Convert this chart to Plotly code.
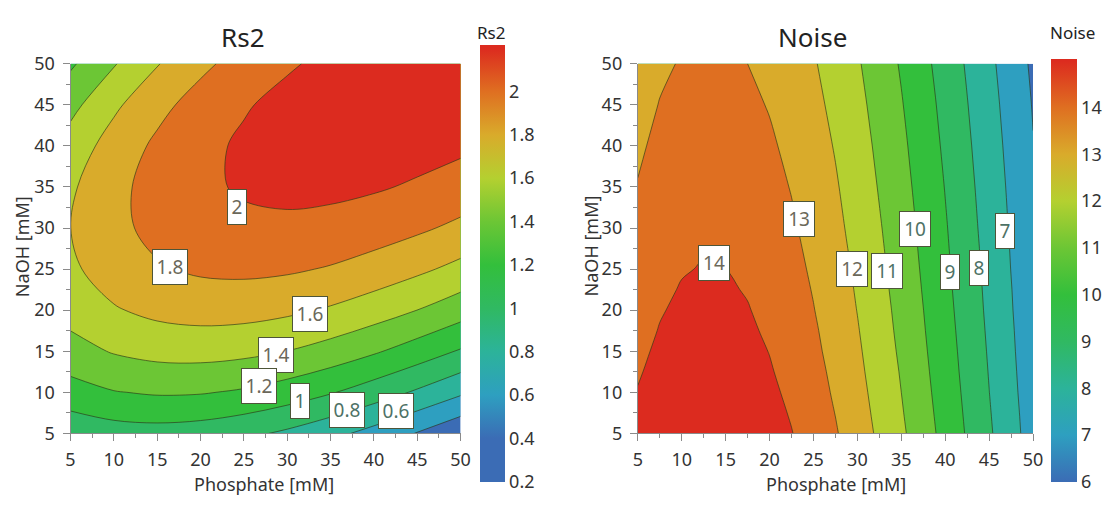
import plotly.graph_objects as go

# ---------------- data ----------------
# Rs2 surface grid
rs2_phosphate = [5, 10, 15, 20, 25, 30, 35, 40, 45, 50]
rs2_naoh = [5, 10, 15, 20, 25, 30, 35, 40, 45, 50]
# rows = NaOH, columns = Phosphate
rs2 = [
    [0.856, 0.911, 0.925, 0.903, 0.848, 0.765, 0.659, 0.532, 0.390, 0.236],
    [1.120, 1.191, 1.221, 1.214, 1.175, 1.107, 1.015, 0.902, 0.773, 0.632],
    [1.326, 1.415, 1.463, 1.473, 1.450, 1.398, 1.322, 1.224, 1.110, 0.983],
    [1.475, 1.583, 1.649, 1.678, 1.673, 1.638, 1.578, 1.497, 1.399, 1.287],
    [1.566, 1.695, 1.781, 1.829, 1.842, 1.826, 1.785, 1.721, 1.640, 1.545],
    [1.599, 1.749, 1.856, 1.925, 1.959, 1.962, 1.940, 1.895, 1.833, 1.756],
    [1.572, 1.745, 1.875, 1.965, 2.021, 2.046, 2.044, 2.020, 1.977, 1.920],
    [1.486, 1.684, 1.837, 1.951, 2.029, 2.077, 2.097, 2.094, 2.072, 2.035],
    [1.341, 1.563, 1.742, 1.880, 1.983, 2.054, 2.097, 2.117, 2.118, 2.103],
    [1.170, 1.385, 1.589, 1.754, 1.882, 1.978, 2.045, 2.089, 2.113, 2.122],
]

# Noise surface grid
noise_phosphate = [5, 7.5, 10, 12.5, 15, 17.5, 20, 22.5, 25, 27.5, 30, 35, 40, 45, 50]
noise_naoh = [5, 7.5, 10, 12.5, 15, 17.5, 20, 22.5, 25, 27.5, 30, 35, 40, 45, 50]
# rows = NaOH, columns = Phosphate
noise = [
    [14.29, 14.62, 14.81, 14.88, 14.82, 14.66, 14.39, 14.03, 13.59, 13.08, 12.49, 11.17, 9.69, 8.13, 6.56],
    [14.16, 14.49, 14.69, 14.76, 14.71, 14.54, 14.28, 13.93, 13.49, 12.98, 12.40, 11.08, 9.62, 8.07, 6.52],
    [14.04, 14.37, 14.57, 14.64, 14.59, 14.43, 14.18, 13.82, 13.39, 12.88, 12.31, 11.00, 9.55, 8.01, 6.47],
    [13.92, 14.26, 14.46, 14.53, 14.49, 14.33, 14.07, 13.73, 13.30, 12.79, 12.22, 10.93, 9.48, 7.96, 6.43],
    [13.81, 14.15, 14.35, 14.43, 14.38, 14.23, 13.98, 13.63, 13.20, 12.70, 12.14, 10.85, 9.42, 7.91, 6.39],
    [13.70, 14.04, 14.25, 14.32, 14.28, 14.13, 13.88, 13.54, 13.12, 12.62, 12.06, 10.78, 9.36, 7.86, 6.36],
    [13.60, 13.94, 14.15, 14.23, 14.19, 14.04, 13.79, 13.45, 13.03, 12.54, 11.98, 10.72, 9.30, 7.81, 6.32],
    [13.50, 13.84, 14.05, 14.13, 14.09, 13.95, 13.70, 13.37, 12.95, 12.46, 11.91, 10.65, 9.24, 7.77, 6.29],
    [13.40, 13.75, 13.95, 14.04, 14.00, 13.86, 13.62, 13.28, 12.87, 12.38, 11.84, 10.58, 9.19, 7.72, 6.25],
    [13.31, 13.65, 13.86, 13.95, 13.91, 13.77, 13.53, 13.20, 12.79, 12.31, 11.76, 10.52, 9.13, 7.68, 6.22],
    [13.22, 13.56, 13.77, 13.86, 13.83, 13.69, 13.45, 13.12, 12.71, 12.23, 11.69, 10.46, 9.08, 7.63, 6.18],
    [13.04, 13.38, 13.60, 13.68, 13.66, 13.52, 13.29, 12.96, 12.56, 12.09, 11.55, 10.33, 8.97, 7.54, 6.11],
    [12.86, 13.21, 13.42, 13.51, 13.48, 13.35, 13.12, 12.80, 12.40, 11.94, 11.41, 10.20, 8.85, 7.44, 6.03],
    [12.68, 13.03, 13.25, 13.34, 13.31, 13.18, 12.95, 12.64, 12.24, 11.78, 11.26, 10.06, 8.73, 7.33, 5.95],
    [12.50, 12.85, 13.06, 13.16, 13.13, 13.00, 12.78, 12.47, 12.08, 11.62, 11.10, 9.91, 8.59, 7.21, 5.84],
]

rs2_levels = [0.4, 0.6, 0.8, 1.0, 1.2, 1.4, 1.6, 1.8, 2.0]
noise_levels = [6, 7, 8, 9, 10, 11, 12, 13, 14]
rs2_cbar_ticks = [0.2, 0.4, 0.6, 0.8, 1.0, 1.2, 1.4, 1.6, 1.8, 2.0]
rs2_cbar_text = ["0.2", "0.4", "0.6", "0.8", "1", "1.2", "1.4", "1.6", "1.8", "2"]
noise_cbar_ticks = [6, 7, 8, 9, 10, 11, 12, 13, 14]
rs2_range = [0.2, 2.215]
noise_range = [6, 15.04]
axis_ticks = [5, 10, 15, 20, 25, 30, 35, 40, 45, 50]

# contour labels: (text, phosphate, NaOH)
rs2_labels = [("2", 24.2, 32.6), ("1.8", 16.5, 25.2), ("1.6", 32.6, 19.5), ("1.4", 28.7, 14.6),
              ("1.2", 26.7, 10.8), ("1", 31.5, 8.9), ("0.8", 36.9, 7.9), ("0.6", 42.6, 7.7)]
noise_labels = [("14", 13.7, 25.8), ("13", 23.3, 31.1), ("12", 29.4, 25.0), ("11", 33.4, 24.8),
                ("10", 36.6, 29.9), ("9", 40.6, 24.6), ("8", 43.9, 25.1), ("7", 46.8, 29.6)]

# ---------------- styling ----------------
W, H = 1120, 506
FONT = "Noto Sans"
pal = ["#3b6cb5", "#2e9fc0", "#2cb39a", "#30b962", "#33bf3c",
       "#6cc635", "#b4d030", "#d9ab2b", "#df6f21", "#dc2b1f"]


def band_scale(colors):
    n = len(colors) - 1
    return [[k / n, c] for k, c in enumerate(colors)]


def bar_scale(colors, levels, rng):
    # colour k sits at the upper edge of band k
    step = levels[1] - levels[0]
    vals = [levels[0] + step * k for k in range(len(colors))]
    lo, hi = rng
    out = [[0.0, colors[0]]]
    for v, c in zip(vals, colors):
        p = (v - lo) / (hi - lo)
        if 0 < p < 1:
            out.append([p, c])
    out.append([1.0, colors[-1]])
    return out


def fx(px):
    return px / W


def fy(py):
    return 1 - py / H


line_style = dict(color="rgba(45,55,25,0.65)", width=1, smoothing=1)

fig = go.Figure()
fig.add_trace(go.Contour(
    x=rs2_phosphate, y=rs2_naoh, z=rs2, xaxis="x", yaxis="y", showscale=False, autocontour=False,
    contours=dict(start=rs2_levels[0], end=rs2_levels[-1], size=rs2_levels[1] - rs2_levels[0], coloring="fill"),
    colorscale=band_scale(pal), line=line_style, hoverinfo="skip"))
fig.add_trace(go.Contour(
    x=noise_phosphate, y=noise_naoh, z=noise, xaxis="x2", yaxis="y2", showscale=False, autocontour=False,
    contours=dict(start=noise_levels[0], end=noise_levels[-1], size=noise_levels[1] - noise_levels[0], coloring="fill"),
    colorscale=band_scale(pal), line=line_style, hoverinfo="skip"))

cb_common = dict(xanchor="left", yanchor="middle", lenmode="fraction", thicknessmode="pixels",
                 xpad=0, ypad=0, outlinewidth=0, ticks="", tickfont=dict(size=18, color="#333", family=FONT))
fig.add_trace(go.Scatter(
    x=[None], y=[None], mode="markers", xaxis="x", yaxis="y", hoverinfo="skip",
    marker=dict(color=[rs2_range[0]], cmin=rs2_range[0], cmax=rs2_range[1], showscale=True,
                colorscale=bar_scale(pal, rs2_levels, rs2_range),
                colorbar=dict(cb_common, x=fx(481), y=fy((33.3 + 492) / 2), len=(492 - 33.3) / H, thickness=25,
                              tickmode="array", tickvals=rs2_cbar_ticks, ticktext=rs2_cbar_text))))
fig.add_trace(go.Scatter(
    x=[None], y=[None], mode="markers", xaxis="x2", yaxis="y2", hoverinfo="skip",
    marker=dict(color=[noise_range[0]], cmin=noise_range[0], cmax=noise_range[1], showscale=True,
                colorscale=bar_scale(pal, noise_levels, noise_range),
                colorbar=dict(cb_common, x=fx(1060), y=fy((48.3 + 492) / 2), len=(492 - 48.3) / H, thickness=26,
                              tickmode="array", tickvals=noise_cbar_ticks))))

ax = dict(range=[axis_ticks[0], axis_ticks[-1]], tickmode="array", tickvals=axis_ticks,
          ticks="outside", ticklen=7, tickcolor="#8a8a8a", tickwidth=1,
          showline=True, linecolor="#8a8a8a", linewidth=1, showgrid=False, zeroline=False,
          tickfont=dict(size=18, color="#333", family=FONT),
          minor=dict(tick0=5, dtick=2.5, ticks="outside", ticklen=4, tickcolor="#8a8a8a"))
xax = dict(ax, ticklabelstandoff=3)
yax = dict(ax, ticklabelstandoff=4)
ydom = [fy(441.3), fy(53.3)]
fig.update_layout(
    width=W, height=H, margin=dict(l=0, r=0, t=0, b=0),
    paper_bgcolor="white", plot_bgcolor="white", showlegend=False,
    font=dict(family=FONT, color="#333"),
    xaxis=dict(xax, domain=[fx(66.4), fx(461.8)], anchor="y"),
    yaxis=dict(yax, domain=ydom, anchor="x"),
    xaxis2=dict(xax, domain=[fx(641.4), fx(1042)], anchor="y2"),
    yaxis2=dict(yax, domain=ydom, anchor="x2"),
)

ann = []


def text(t, px, py, size, angle=0, color="#222"):
    ann.append(dict(text=t, x=fx(px), y=fy(py), xref="paper", yref="paper", showarrow=False,
                    xanchor="center", yanchor="middle", textangle=angle,
                    font=dict(size=size, color=color, family=FONT)))


text("Rs2", 241, 25, 26)
text("Noise", 818, 25, 26)
text("Rs2", 493, 20, 17)
text("Noise", 1082, 20, 17)
text("Phosphate [mM]", 263, 494, 18, color="#333")
text("Phosphate [mM]", 842, 494, 18, color="#333")
text("NaOH [mM]", 18, 245, 18, angle=-90, color="#333")
text("NaOH [mM]", 594, 245, 18, angle=-90, color="#333")


def box_labels(labels, xref, yref, warm_from):
    for t, x, y in labels:
        val = float(t)
        col = "#6b685a" if val >= warm_from else "#4e7266"
        ann.append(dict(text=t, x=x, y=y, xref=xref, yref=yref, showarrow=False,
                        xanchor="center", yanchor="middle", width=12 * len(t) if len(t) < 3 else 28,
                        height=28, bgcolor="white", bordercolor="#4d5538", borderwidth=1, borderpad=3,
                        font=dict(size=19, color=col, family=FONT)))


box_labels(rs2_labels, "x", "y", 1.2)
box_labels(noise_labels, "x2", "y2", 11.5)
fig.update_layout(annotations=ann)

fig.write_html("out.html")
